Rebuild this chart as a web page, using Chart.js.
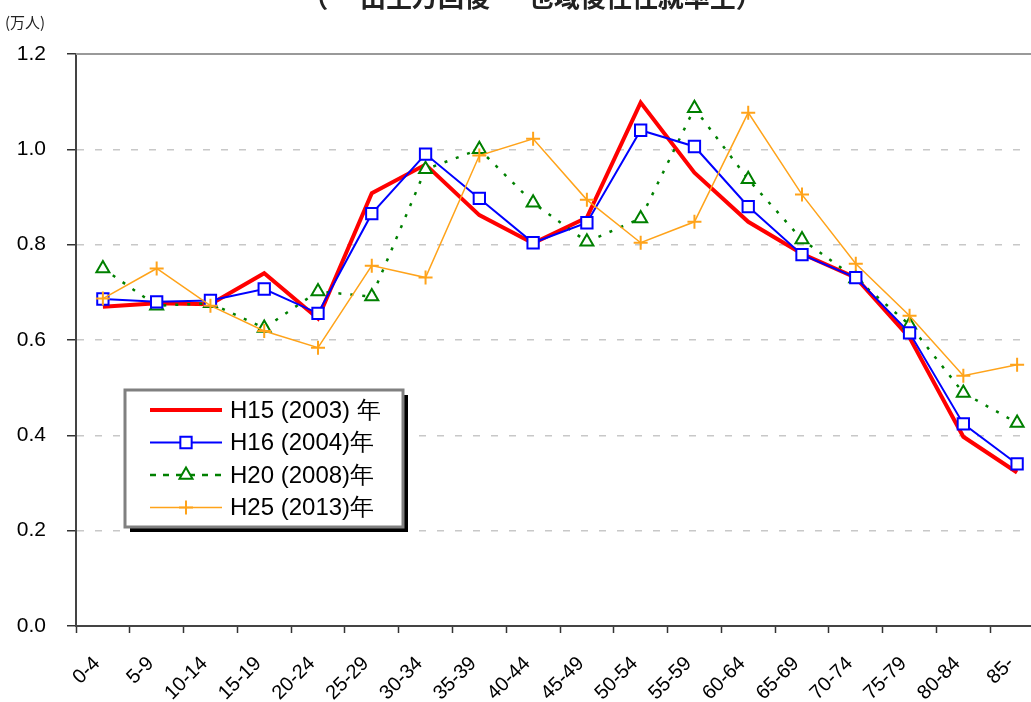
<!DOCTYPE html>
<html>
<head>
<meta charset="utf-8">
<script src="https://cdn.jsdelivr.net/npm/chart.js@4/dist/chart.umd.min.js"></script>
<style>
  html, body { margin: 0; padding: 0; overflow: hidden; background: #fff; }
  #wrap { position: relative; width: 1054px; height: 702px; }
</style>
</head>
<body>
<div id="wrap"><canvas id="chart" width="1054" height="702"></canvas></div>
<script>
// --- Data ---
const ageGroups = ['0-4', '5-9', '10-14', '15-19', '20-24', '25-29', '30-34', '35-39', '40-44',
    '45-49', '50-54', '55-59', '60-64', '65-69', '70-74', '75-79', '80-84', '85-'];

const h15 = [0.670, 0.677, 0.675, 0.740, 0.645, 0.908, 0.968, 0.862, 0.803, 0.857, 1.098, 0.951,
    0.848, 0.781, 0.731, 0.605, 0.397, 0.322];
const h16 = [0.686, 0.680, 0.683, 0.707, 0.656, 0.865, 0.990, 0.897, 0.804, 0.846, 1.040, 1.006,
    0.880, 0.779, 0.731, 0.615, 0.424, 0.340];
const h20 = [0.750, 0.672, 0.677, 0.625, 0.702, 0.691, 0.958, 1.000, 0.888, 0.806, 0.855, 1.086,
    0.937, 0.811, 0.729, 0.632, 0.489, 0.426];
const h25 = [0.687, 0.750, 0.672, 0.619, 0.584, 0.756, 0.731, 0.987, 1.022, 0.894, 0.804, 0.848,
    1.077, 0.905, 0.760, 0.651, 0.525, 0.548];

const seriesNames = ['H15 (2003) 年', 'H16 (2004)年', 'H20 (2008)年', 'H25 (2013)年'];
const yTicks = [0, 0.2, 0.4, 0.6, 0.8, 1.0, 1.2];

const unitLabel = '(万人)';
const titleText = '（一 出生万回後 一 也域後住住就率生）';

const baseFont = "'Liberation Sans', Arial, sans-serif";

// --- Plugins ---

// solid top border, unit label and the cropped title
const framePlugin = {
    id: 'frame',
    beforeDatasetsDraw(chart) {
        const { ctx, chartArea } = chart;
        ctx.save();
        ctx.strokeStyle = '#999';
        ctx.lineWidth = 2;
        ctx.beginPath();
        ctx.moveTo(chartArea.left, chartArea.top);
        ctx.lineTo(chartArea.right, chartArea.top);
        ctx.stroke();
        ctx.restore();
    },
    afterDraw(chart) {
        const { ctx } = chart;
        ctx.save();
        ctx.fillStyle = '#222';
        ctx.font = "15px 'Noto Sans CJK JP', sans-serif";
        ctx.textBaseline = 'middle';
        ctx.textAlign = 'left';
        ctx.fillText(unitLabel, 5, 22);

        ctx.font = "bold 26px 'Noto Sans CJK JP', sans-serif";
        ctx.textAlign = 'center';
        ctx.textBaseline = 'alphabetic';
        ctx.fillText(titleText, 532, 7);
        ctx.restore();
    }
};

// legend box inside the plot with shadow
const legendBoxPlugin = {
    id: 'legendBox',
    afterDraw(chart) {
        const { ctx } = chart;
        const x = 125, y = 390, w = 278, h = 137;
        ctx.save();
        ctx.fillStyle = '#000';
        ctx.fillRect(x + 5, y + 5, w, h);
        ctx.fillStyle = '#fff';
        ctx.fillRect(x, y, w, h);
        ctx.strokeStyle = '#808080';
        ctx.lineWidth = 3;
        ctx.strokeRect(x, y, w, h);

        chart.data.datasets.forEach((ds, i) => {
            const rowY = 410 + i * 32.5;
            ctx.save();
            ctx.strokeStyle = ds.borderColor;
            ctx.lineWidth = ds.borderWidth;
            ctx.setLineDash(ds.legendDash || []);
            ctx.beginPath();
            ctx.moveTo(150, rowY);
            ctx.lineTo(222, rowY);
            ctx.stroke();
            ctx.restore();
            if (ds.pointRadius > 0) {
                ctx.save();
                ctx.fillStyle = ds.pointBackgroundColor;
                ctx.strokeStyle = ds.borderColor;
                ctx.lineWidth = ds.pointBorderWidth;
                Chart.helpers.drawPoint(ctx, {
                    pointStyle: ds.pointStyle,
                    rotation: 0,
                    radius: ds.pointRadius,
                    borderWidth: ds.pointBorderWidth
                }, 186, rowY);
                ctx.restore();
            }
            ctx.fillStyle = '#000';
            ctx.font = '24px ' + baseFont;
            ctx.textBaseline = 'middle';
            ctx.textAlign = 'left';
            ctx.fillText(ds.label, 230, rowY + 1);
        });
        ctx.restore();
    }
};

// --- Chart ---
const ctxChart = document.getElementById('chart').getContext('2d');
const chart = new Chart(ctxChart, {
    type: 'line',
    data: {
        labels: ageGroups,
        datasets: [
            {
                label: seriesNames[0],
                data: h15,
                borderColor: '#ff0000',
                backgroundColor: '#ff0000',
                borderWidth: 4,
                pointRadius: 0,
                order: 3
            },
            {
                label: seriesNames[1],
                data: h16,
                borderColor: '#0000ff',
                backgroundColor: '#fff',
                borderWidth: 2,
                pointStyle: 'rect',
                pointRadius: 8,
                pointBorderWidth: 2,
                pointBackgroundColor: '#fff',
                order: 1
            },
            {
                label: seriesNames[2],
                data: h20,
                borderColor: '#008000',
                backgroundColor: '#fff',
                borderWidth: 2.5,
                borderDash: [3, 9],
                legendDash: [6, 7],
                pointStyle: 'triangle',
                pointRadius: 7.5,
                pointBorderWidth: 2,
                pointBackgroundColor: '#fff',
                order: 2
            },
            {
                label: seriesNames[3],
                data: h25,
                borderColor: '#ffa31a',
                backgroundColor: '#ffa31a',
                borderWidth: 1.5,
                pointStyle: 'cross',
                pointRadius: 7,
                pointBorderWidth: 2,
                pointBackgroundColor: '#ffa31a',
                order: 0
            }
        ]
    },
    options: {
        responsive: false,
        animation: false,
        layout: { padding: { left: 0, top: 54, right: 0, bottom: 0 } },
        elements: { line: { tension: 0 } },
        scales: {
            x: {
                offset: true,
                grid: {
                    offset: true,
                    drawOnChartArea: false,
                    drawTicks: true,
                    tickLength: 7,
                    tickColor: '#333',
                    tickWidth: 1.5
                },
                border: { display: true, color: '#444', width: 2 },
                ticks: {
                    minRotation: 45,
                    maxRotation: 45,
                    padding: 19,
                    labelOffset: -6,
                    color: '#000',
                    font: { family: baseFont, size: 20 }
                },
                afterFit: (scale) => { scale.height = 76; }
            },
            y: {
                min: 0,
                max: 1.2,
                afterBuildTicks: (scale) => { scale.ticks = yTicks.map(v => ({ value: v })); },
                grid: {
                    color: (c) => (c.tick && (c.tick.value === 0 || c.tick.value === 1.2)) ? 'rgba(0,0,0,0)' : '#c8c8c8',
                    lineWidth: 1.5,
                    tickLength: 9,
                    tickColor: '#333',
                    tickWidth: 1.5
                },
                border: { display: true, color: '#444', width: 2, dash: [7, 11] },
                ticks: {
                    padding: 21,
                    color: '#000',
                    font: { family: baseFont, size: 21 },
                    callback: (v) => Number(v).toFixed(1)
                },
                afterFit: (scale) => { scale.width = 76; }
            }
        },
        plugins: {
            legend: { display: false },
            tooltip: { enabled: false }
        }
    },
    plugins: [framePlugin, legendBoxPlugin]
});
</script>
</body>
</html>
